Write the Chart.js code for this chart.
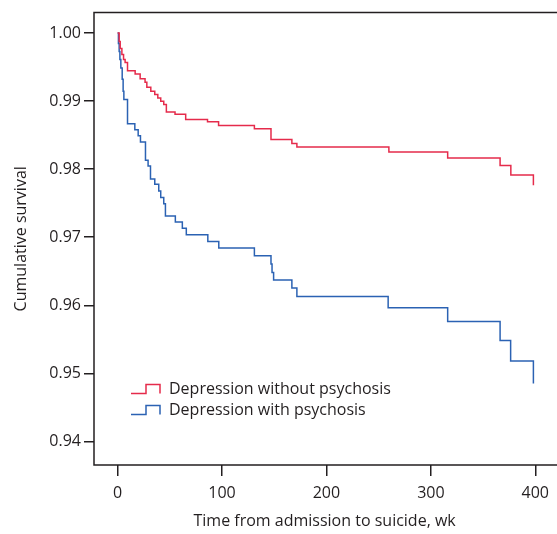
<!DOCTYPE html>
<html>
<head>
<meta charset="utf-8">
<script src="https://cdn.jsdelivr.net/npm/chart.js@4.4.1/dist/chart.umd.min.js"></script>
<style>
  html, body { margin: 0; padding: 0; background: #fff; }
  #wrap { width: 557px; height: 534px; }
</style>
</head>
<body>
<div id="wrap"><canvas id="km" width="557" height="534"></canvas></div>
<script>
// Kaplan-Meier steps (week, cumulative survival after the drop)
const seriesNames = ['Depression without psychosis', 'Depression with psychosis'];
const weeksNoPsych = [0, 1.5, 2.5, 4.1, 5.7, 7.2, 9.5, 16.8, 21.6, 26.3, 28, 31.8, 35.6, 38.5, 41.3, 44.2, 46.7, 55, 65.2, 86.1, 96.7, 131, 146.9, 166.9, 171.7, 259.8, 316.1, 366.3, 376.6, 398.2];
const survNoPsych = [1.0, 0.99876, 0.99773, 0.99685, 0.99612, 0.99568, 0.99444, 0.99397, 0.99329, 0.99275, 0.99202, 0.99144, 0.99095, 0.99045, 0.98997, 0.98949, 0.9884, 0.98807, 0.98729, 0.98697, 0.98641, 0.98592, 0.98436, 0.98378, 0.98324, 0.9825, 0.98163, 0.98053, 0.97914, 0.97763];
const weeksPsych = [0, 0.8, 1.5, 2.2, 3.1, 4.4, 5.3, 6.0, 9.5, 16.5, 19.7, 21.9, 26.7, 29.2, 31.5, 35.6, 39.4, 41.3, 44.2, 45.8, 55.3, 62, 65.8, 86.4, 96.9, 131, 146.9, 147.9, 149.4, 166.9, 171.7, 259.1, 316.1, 366.3, 376.4, 398.2];
const survPsych = [1.0, 0.99846, 0.99729, 0.99612, 0.99485, 0.99319, 0.99143, 0.99022, 0.98668, 0.9858, 0.98492, 0.98397, 0.98129, 0.98045, 0.97855, 0.97777, 0.97679, 0.97584, 0.97493, 0.97313, 0.97225, 0.9713, 0.97035, 0.96937, 0.9684, 0.96728, 0.96606, 0.96483, 0.96372, 0.96255, 0.96127, 0.95962, 0.95761, 0.95483, 0.9518, 0.94849];
const xTicks = [0, 100, 200, 300, 400];
const yTicks = [0.94, 0.95, 0.96, 0.97, 0.98, 0.99, 1.00];
const colors = ['#e52b4b', '#2b62b3'];

const ink = '#231f20';
const font = { family: '"Open Sans", "Noto Sans", sans-serif', size: 16 };

const toPoints = (xs, ys) => xs.map((x, i) => ({ x: x, y: ys[i] }));

// frame around the plot + the small step-shaped legend inside it
const frameAndKey = {
  id: 'frameAndKey',
  afterDraw(chart) {
    const { ctx, chartArea: a } = chart;
    ctx.save();
    ctx.strokeStyle = ink;
    ctx.lineWidth = 1.5;
    ctx.beginPath();
    ctx.moveTo(chart.width, a.top);
    ctx.lineTo(a.left, a.top);
    ctx.lineTo(a.left, a.bottom);
    ctx.lineTo(chart.width, a.bottom);
    ctx.stroke();

    ctx.font = font.size + 'px ' + font.family;
    ctx.textBaseline = 'middle';
    ctx.fillStyle = ink;
    chart.data.datasets.forEach((ds, i) => {
      const x0 = a.left + 37;
      const yc = a.bottom - 76 + i * 21;
      ctx.strokeStyle = ds.borderColor;
      ctx.lineWidth = 1.5;
      ctx.beginPath();
      ctx.moveTo(x0, yc + 4.5);
      ctx.lineTo(x0 + 15, yc + 4.5);
      ctx.lineTo(x0 + 15, yc - 4.5);
      ctx.lineTo(x0 + 29, yc - 4.5);
      ctx.lineTo(x0 + 29, yc + 4.5);
      ctx.stroke();
      ctx.fillText(ds.label, x0 + 38, yc);
    });
    ctx.restore();
  }
};

const kmChart = new Chart(document.getElementById('km'), {
  type: 'line',
  data: {
    datasets: [
      { label: seriesNames[0], data: toPoints(weeksNoPsych, survNoPsych), borderColor: colors[0] },
      { label: seriesNames[1], data: toPoints(weeksPsych, survPsych), borderColor: colors[1] }
    ]
  },
  options: {
    responsive: false,
    animation: false,
    layout: { padding: { top: 11, right: 0, bottom: 0, left: 0 } },
    elements: {
      line: { stepped: 'before', borderWidth: 1.5, fill: false, tension: 0 },
      point: { radius: 0 }
    },
    plugins: { legend: { display: false }, tooltip: { enabled: false } },
    scales: {
      x: {
        type: 'linear',
        min: -22.6,
        max: 419.1,
        afterFit: s => { s.height = 69; },
        afterBuildTicks: s => { s.ticks = xTicks.map(v => ({ value: v })); },
        border: { display: false },
        grid: { drawOnChartArea: false, drawTicks: true, tickLength: 11, color: ink, lineWidth: 1.5 },
        ticks: { color: ink, font: font, padding: 8, maxRotation: 0 },
        title: { display: true, text: 'Time from admission to suicide, wk', color: ink, font: font, padding: { top: 0, bottom: 3 } }
      },
      y: {
        min: 0.93653,
        max: 1.003,
        afterFit: s => { s.width = 94; },
        afterBuildTicks: s => { s.ticks = yTicks.map(v => ({ value: v })); },
        border: { display: false },
        grid: { drawOnChartArea: false, drawTicks: true, tickLength: 10, color: ink, lineWidth: 1.5 },
        ticks: { color: ink, font: font, padding: 3, callback: v => v.toFixed(2) },
        title: { display: true, text: 'Cumulative survival', color: ink, font: font, padding: { top: 12, bottom: 0 } }
      }
    }
  },
  plugins: [frameAndKey]
});
</script>
</body>
</html>
